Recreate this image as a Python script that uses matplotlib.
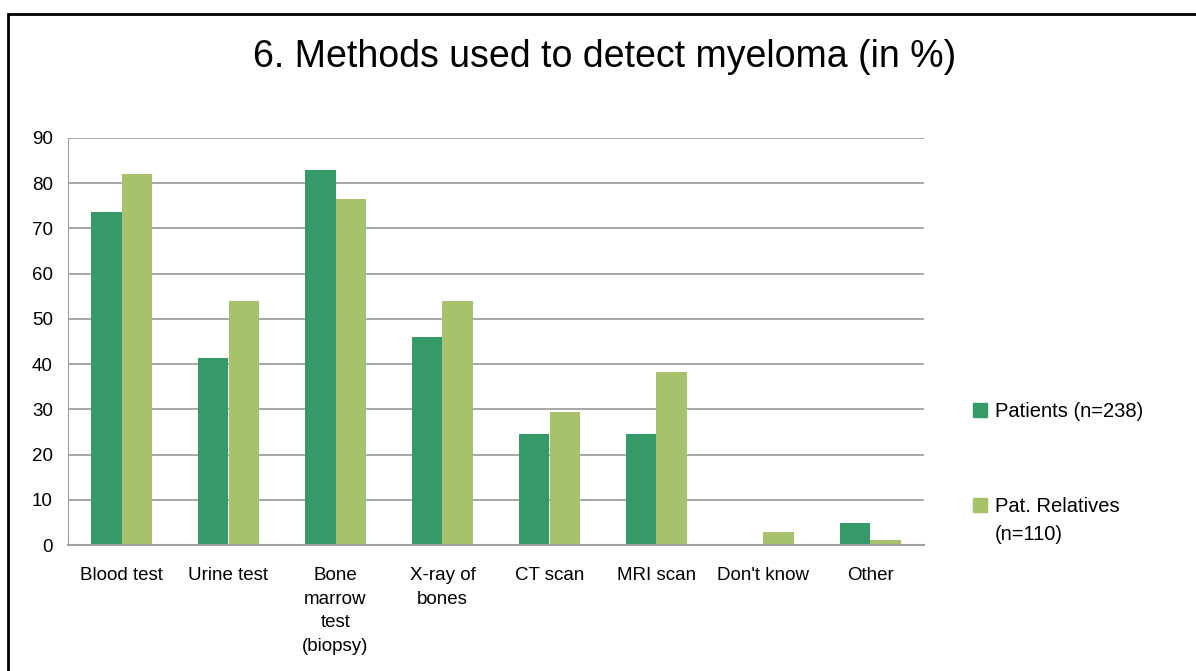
import numpy as np
import matplotlib.pyplot as plt
from matplotlib.patches import Rectangle

plt.rcParams['font.family'] = ['Liberation Sans Narrow', 'Liberation Sans', 'DejaVu Sans']

# survey results, in percent
methods = ["Blood test", "Urine test", "Bone\nmarrow\ntest\n(biopsy)", "X-ray of\nbones",
           "CT scan", "MRI scan", "Don't know", "Other"]
patients = [73.7, 41.4, 83.0, 46.0, 24.6, 24.6, 0.0, 4.9]
relatives = [82.1, 54.0, 76.6, 54.0, 29.4, 38.3, 2.9, 1.1]
series_labels = ["Patients (n=238)", "Pat. Relatives\n(n=110)"]

dark_green = "#359A68"
light_green = "#A6C26B"

W, H = 1196, 671
fig = plt.figure(figsize=(W / 100, H / 100), dpi=100)
ax = fig.add_axes([68 / W, 1 - 545 / H, (924 - 68) / W, (545 - 138) / H])

x = np.arange(len(methods))
w = 0.285
ax.bar(x - w / 2, patients, w, color=dark_green, zorder=2)
ax.bar(x + w / 2, relatives, w, color=light_green, zorder=2)

ax.set_xlim(-0.5, len(methods) - 0.5)
ax.set_ylim(0, 90)
ax.set_yticks(range(0, 91, 10))
ax.set_xticks(x)
ax.set_xticklabels(methods, fontsize=13.5, linespacing=1.5, va='top')
ax.tick_params(axis='x', length=0, pad=16)
ax.tick_params(axis='y', length=0, pad=11, labelsize=13.5)
ax.yaxis.grid(True, color='#989898', linewidth=1.2, zorder=0)
for s in ['top', 'right']:
    ax.spines[s].set_visible(False)
ax.spines['left'].set_color('#a0a0a0')
ax.spines['bottom'].set_color('#a0a0a0')
ax.spines['bottom'].set_linewidth(1.5)

fig.text(605 / W, 1 - 57 / H, "6. Methods used to detect myeloma (in %)",
         ha='center', va='center', fontsize=27)

# legend, drawn by hand so the swatch sits on the first text line
legend_rows = [(410, dark_green), (505, light_green)]
for (yc, col), label in zip(legend_rows, series_labels):
    fig.patches.append(Rectangle((973 / W, 1 - (yc + 7) / H), 14 / W, 14 / H,
                                 transform=fig.transFigure, color=col))
    fig.text(995 / W, 1 - (yc - 8) / H, label, ha='left', va='top',
             fontsize=14.5, linespacing=1.6)

# outer chart border
fig.patches.append(Rectangle((8 / W, -0.01), 1.1, 1 - 14 / H + 0.01,
                             transform=fig.transFigure, fill=False,
                             edgecolor='black', linewidth=2))

fig.savefig("out.png", dpi=100)
